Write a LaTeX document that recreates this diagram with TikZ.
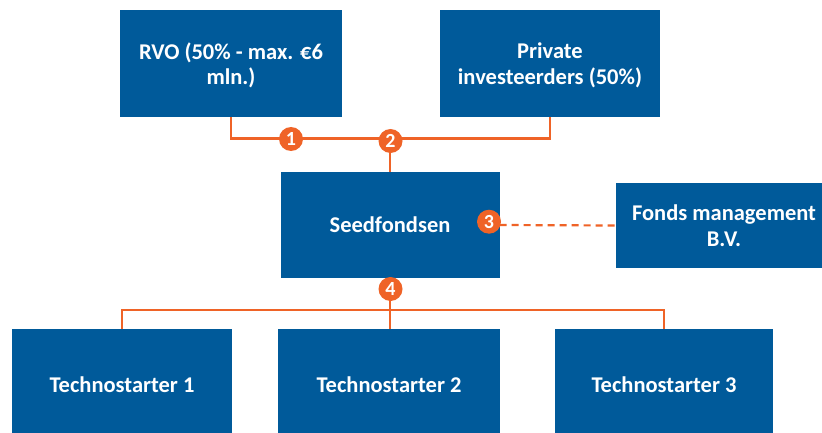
\documentclass[tikz,border=0pt]{standalone}
\usepackage{fontspec}
\setmainfont{Carlito}
\definecolor{boxblue}{HTML}{005A9A}
\definecolor{lineorange}{HTML}{EF6327}
\begin{document}
\begin{tikzpicture}[x=1pt,y=1pt,
  box/.style={fill=boxblue, draw=none, text=white, font=\bfseries\fontsize{22.5}{25.6}\selectfont, align=center, inner sep=0pt, minimum height=#1, text depth=0pt},
  box/.default=107pt,
  conn/.style={draw=lineorange, line width=2.2pt},
  badge/.style={circle, fill=lineorange, text=white, inner sep=0pt, minimum size=24pt, font=\bfseries\fontsize{20}{20}\selectfont}]
\clip (0,0) rectangle (822,432);
\fill[white] (0,0) rectangle (822,432);
\node[box, minimum width=222pt] (rvo) at (231,368.5) {RVO (50\% - max. €6\\mln.)};
\node[box, minimum width=219.5pt] (priv) at (550,368.5) {Private\\investeerders (50\%)};
\node[box=106pt, minimum width=219pt] (seed) at (390,207) {Seedfondsen};
\node[box=85pt, minimum width=216pt] (fm) at (724,206.5) {Fonds management\\B.V.};
\node[box=111pt, minimum width=220.5pt] (t1) at (122,47.5) {Technostarter 1};
\node[box=111pt, minimum width=221.5pt] (t2) at (389,47.5) {Technostarter 2};
\node[box=111pt, minimum width=218.5pt] (t3) at (664,47.5) {Technostarter 3};
\coordinate (j) at (390,293.5);
\coordinate (k) at (390,122.3);
\draw[conn] (rvo.south) |- (j) -| (priv.south);
\draw[conn] (j) -- (seed.north);
\draw[conn] (seed.south) -- (seed.south |- t2.north);
\draw[conn] (t1.north) |- (k) -| (t3.north);
\draw[conn, dash pattern=on 7pt off 5pt] (seed.east) -- (fm.west);
\node[badge] (b1) at (291,293) {1};
\node[badge] (b2) at (390.5,291) {2};
\node[badge] (b3) at (489,210.3) {3};
\node[badge] (b4) at (390.5,143) {4};
\end{tikzpicture}
\end{document}
